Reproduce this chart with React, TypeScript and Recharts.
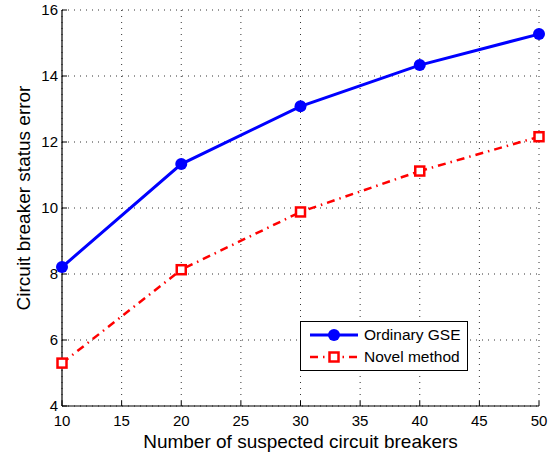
import { LineChart, Line, XAxis, YAxis, CartesianGrid } from 'recharts';

const suspected = [10, 20, 30, 40, 50];
const ordinaryGse = [8.21, 11.33, 13.08, 14.33, 15.27];
const novelMethod = [5.3, 8.13, 9.88, 11.12, 12.16];
const xTicks = [10, 15, 20, 25, 30, 35, 40, 45, 50];
const yTicks = [4, 6, 8, 10, 12, 14, 16];

const data = suspected.map((n, i) => ({ n, gse: ordinaryGse[i], novel: novelMethod[i] }));

const font = '"Liberation Sans", Arial, Helvetica, sans-serif';
const BLUE = '#0000ff';
const RED = '#ff0000';

function SquareDot(props: any) {
  const { cx, cy } = props;
  if (cx == null || cy == null) return null;
  return <rect x={cx - 4.5} y={cy - 4.5} width={9} height={9} fill="#fff" stroke={RED} strokeWidth={2.5} />;
}

function YLabel() {
  return (
    <text x={23} y={198} transform="rotate(-90, 23, 198)" textAnchor="middle" dominantBaseline="central" fill="#000" fontSize={19} fontFamily={font}>
      Circuit breaker status error
    </text>
  );
}

function LegendBox() {
  return (
    <div
      style={{
        position: 'absolute',
        left: 300,
        top: 321,
        width: 168,
        height: 50,
        border: '1.5px solid #000',
        background: '#fff',
        boxSizing: 'border-box',
        fontFamily: font,
        fontSize: 15.5,
        color: '#000',
        whiteSpace: 'nowrap',
        padding: '2px 0 0 8px',
      }}
    >
      <div style={{ display: 'flex', alignItems: 'center', height: 22 }}>
        <svg width={50} height={16}>
          <line x1={1} y1={8} x2={49} y2={8} stroke={BLUE} strokeWidth={3} />
          <circle cx={25} cy={8} r={6} fill={BLUE} />
        </svg>
        <span style={{ marginLeft: 5 }}>Ordinary GSE</span>
      </div>
      <div style={{ display: 'flex', alignItems: 'center', height: 22 }}>
        <svg width={50} height={16}>
          <line x1={1} y1={8} x2={49} y2={8} stroke={RED} strokeWidth={2.5} strokeDasharray="8 5 1.5 5" />
          <rect x={20.5} y={3.5} width={9} height={9} fill="#fff" stroke={RED} strokeWidth={2.5} />
        </svg>
        <span style={{ marginLeft: 5 }}>Novel method</span>
      </div>
    </div>
  );
}

export default function App() {
  const tick = { fill: '#000', fontSize: 15, fontFamily: font };
  return (
    <div style={{ position: 'absolute', left: 0, top: 0, width: 559, height: 453, background: '#fff' }}>
      <LineChart width={559} height={453} data={data} margin={{ top: 10, right: 20, left: 0, bottom: 0 }}>
        <CartesianGrid stroke="#333" strokeDasharray="1 5" strokeWidth={1} />
        <XAxis
          dataKey="n"
          type="number"
          domain={[10, 50]}
          ticks={xTicks}
          tick={tick}
          tickLine={{ stroke: '#000', strokeWidth: 1 }}
          tickSize={-5}
          tickMargin={14}
          axisLine={{ stroke: '#000', strokeWidth: 1.2 }}
          height={47}
          label={{ value: 'Number of suspected circuit breakers', position: 'insideBottom', offset: 5, fill: '#000', fontSize: 19, fontFamily: font }}
        />
        <YAxis
          type="number"
          domain={[4, 16]}
          ticks={yTicks}
          tick={tick}
          tickLine={{ stroke: '#000', strokeWidth: 1 }}
          tickSize={-5}
          tickMargin={9}
          axisLine={{ stroke: '#000', strokeWidth: 1.2 }}
          width={62}
          label={<YLabel />}
        />
        <Line
          dataKey="gse"
          stroke={BLUE}
          strokeWidth={3}
          dot={{ r: 6, fill: BLUE, stroke: BLUE, strokeWidth: 0 }}
          isAnimationActive={false}
        />
        <Line
          dataKey="novel"
          stroke={RED}
          strokeWidth={2.5}
          strokeDasharray="8 5 1.5 5"
          dot={<SquareDot />}
          isAnimationActive={false}
        />
      </LineChart>
      <LegendBox />
    </div>
  );
}
